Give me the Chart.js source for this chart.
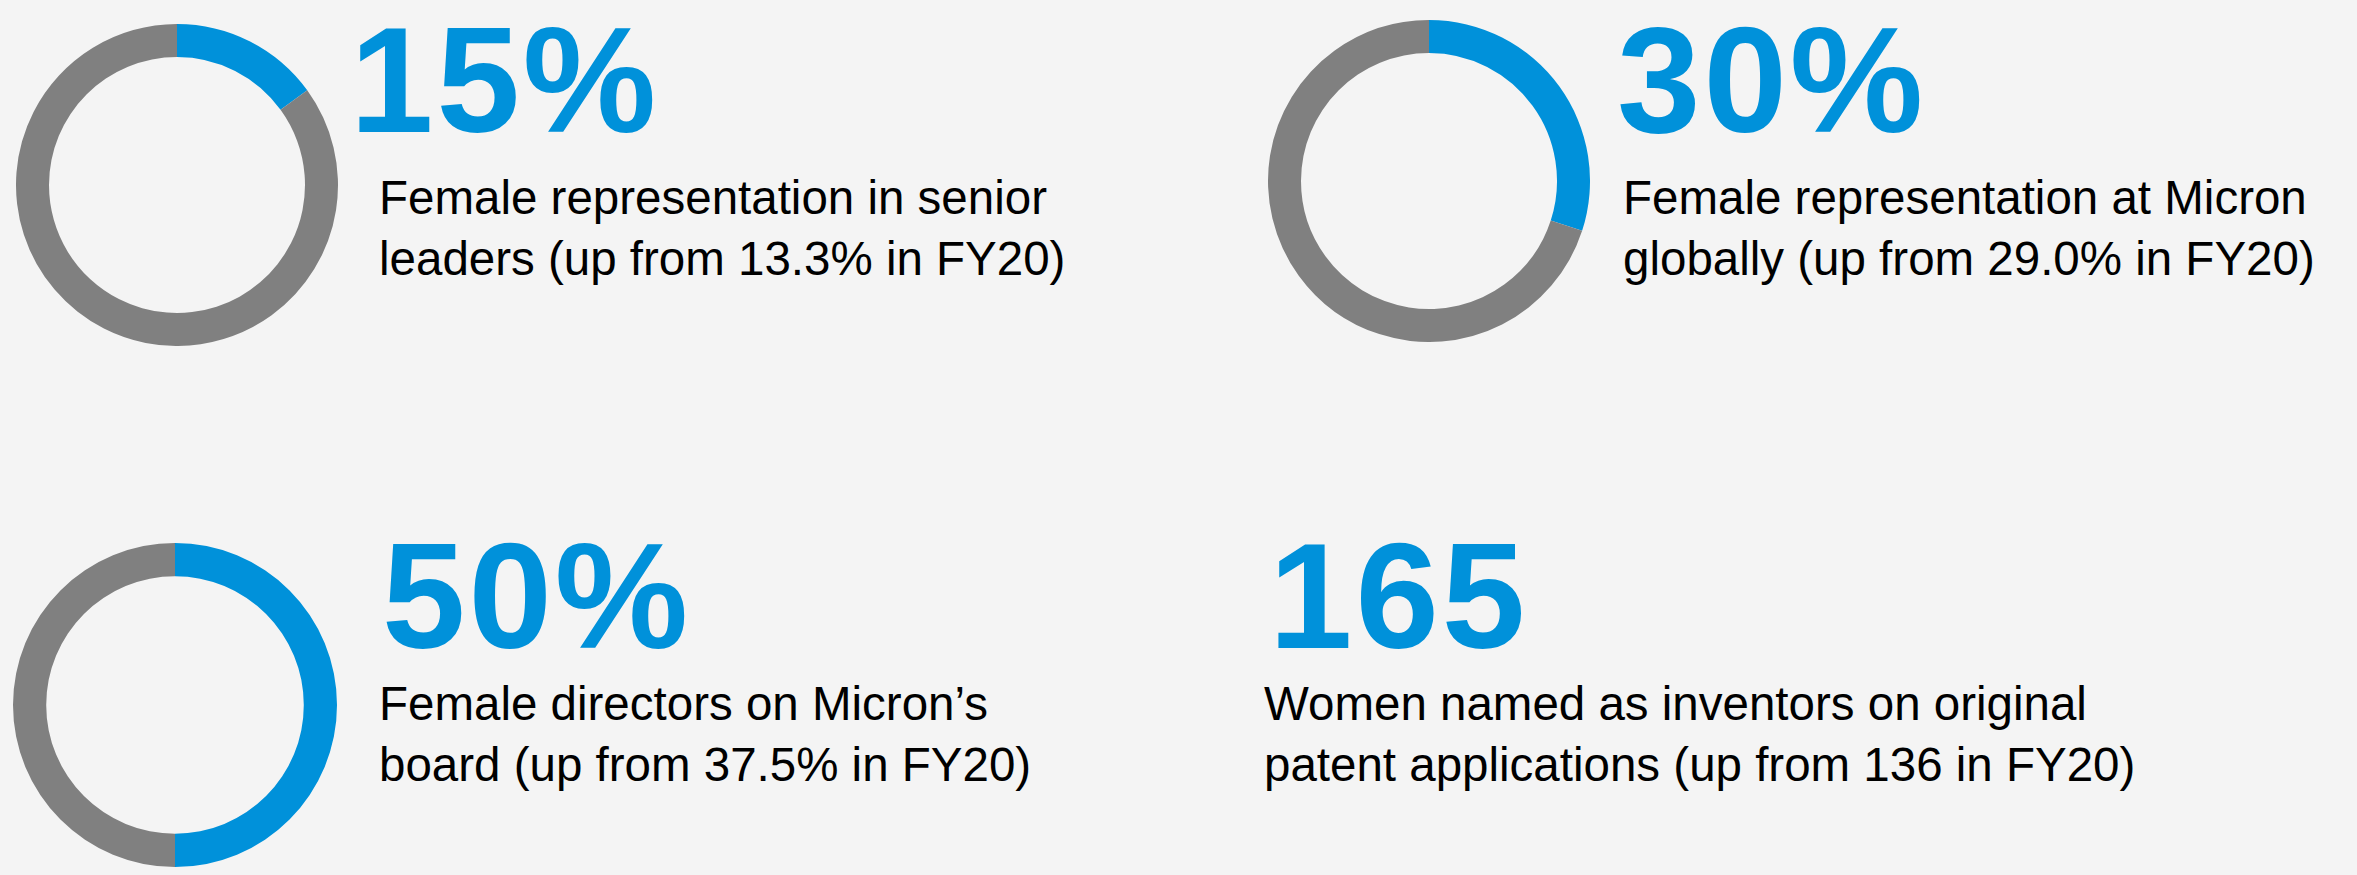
<!DOCTYPE html>
<html>
<head>
<meta charset="utf-8">
<script src="https://cdn.jsdelivr.net/npm/chart.js@4"></script>
<style>
  html, body { margin: 0; padding: 0; }
  body { width: 2357px; height: 875px; background: #f4f4f4; position: relative; overflow: hidden;
         font-family: "Liberation Sans", Arial, sans-serif; }
  .ring { position: absolute; }
  .big { position: absolute; font-weight: bold; font-size: 150px; line-height: 150px; color: #0091da;
         letter-spacing: 3px; white-space: nowrap; }
  .desc { position: absolute; font-size: 47.5px; line-height: 61px; color: #000; white-space: nowrap; }
</style>
</head>
<body>
<canvas id="ring0" class="ring"></canvas>
<canvas id="ring1" class="ring"></canvas>
<canvas id="ring2" class="ring"></canvas>
<script>
// Headline figures and their captions
const headlines = ['15%', '30%', '50%', '165'];
const captions = [
  ['Female representation in senior', 'leaders (up from 13.3% in FY20)'],
  ['Female representation at Micron', 'globally (up from 29.0% in FY20)'],
  ['Female directors on Micron\u2019s', 'board (up from 37.5% in FY20)'],
  ['Women named as inventors on original', 'patent applications (up from 136 in FY20)']
];

// Donut shares (female %, remainder)
const shareFemale = [15, 30, 50];
const shareOther = [85, 70, 50];

const colors = { blue: '#0091da', gray: '#808080' };

// Layout (pixels on the page)
const ringPos = [
  { cx: 177, cy: 185, r: 161 },
  { cx: 1429, cy: 181, r: 161 },
  { cx: 175, cy: 705, r: 162 }
];
const bigPos = [
  { x: 350, y: 5 }, { x: 1617, y: 5 }, { x: 382, y: 521 }, { x: 1269, y: 521 }
];
const descPos = [
  { x: 379, y: 167 }, { x: 1623, y: 167 }, { x: 379, y: 673 }, { x: 1264, y: 673 }
];

// text blocks
headlines.forEach((t, i) => {
  const el = document.createElement('div');
  el.className = 'big';
  el.textContent = t;
  el.style.left = bigPos[i].x + 'px';
  el.style.top = bigPos[i].y + 'px';
  document.body.appendChild(el);

  const d = document.createElement('div');
  d.className = 'desc';
  d.innerHTML = captions[i].join('<br>');
  d.style.left = descPos[i].x + 'px';
  d.style.top = descPos[i].y + 'px';
  document.body.appendChild(d);
});

// donuts
shareFemale.forEach((v, i) => {
  const p = ringPos[i];
  const cv = document.getElementById('ring' + i);
  const size = p.r * 2;
  cv.width = size;
  cv.height = size;
  cv.style.width = size + 'px';
  cv.style.height = size + 'px';
  cv.style.left = (p.cx - p.r) + 'px';
  cv.style.top = (p.cy - p.r) + 'px';
  new Chart(cv, {
    type: 'doughnut',
    data: {
      labels: ['Female', 'Other'],
      datasets: [{
        data: [v, shareOther[i]],
        backgroundColor: [colors.blue, colors.gray],
        borderWidth: 0
      }]
    },
    options: {
      responsive: false,
      animation: false,
      cutout: '79.5%',
      layout: { padding: 0 },
      plugins: { legend: { display: false }, tooltip: { enabled: false } }
    }
  });
});
</script>
</body>
</html>
